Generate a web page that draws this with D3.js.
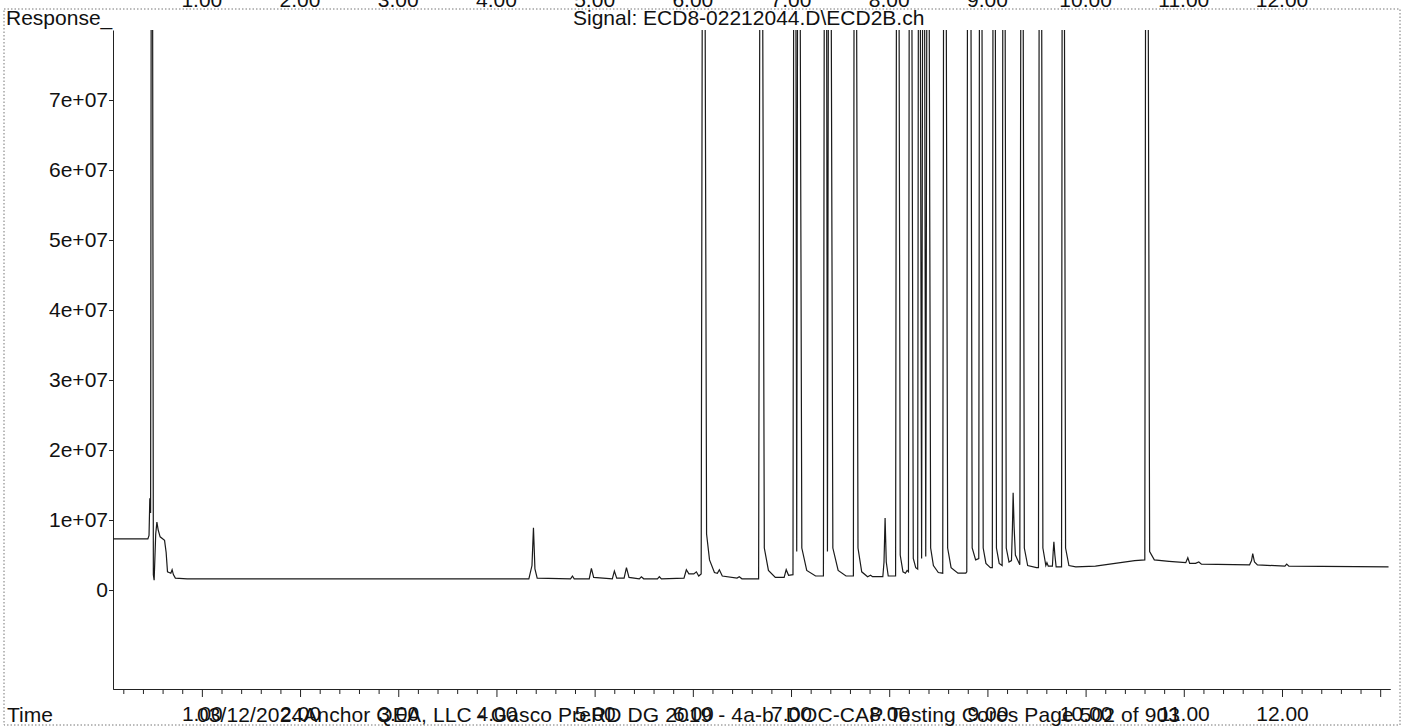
<!DOCTYPE html>
<html>
<head>
<meta charset="utf-8">
<script src="https://cdn.jsdelivr.net/npm/d3@7"></script>
<style>
  body { margin: 0; background: #fff; }
  svg text { font-family: 'Liberation Sans', Arial, sans-serif; fill: #111; }
</style>
</head>
<body>
<div id="chromatogram"></div>
<script>
// texts
var responseTitle = 'Response_'
var signalTitle = 'Signal: ECD8-02212044.D\\ECD2B.ch'
var timeTitle = 'Time'
var footerText = '03/12/2024Anchor QEA, LLC - Gasco PreRD DG 2019 - 4a-b. DOC-CAP Testing Cores Page 502 of 903'

// axis ticks
var timeTicks = [1, 2, 3, 4, 5, 6, 7, 8, 9, 10, 11, 12]
var timeLabels = ['1.00', '2.00', '3.00', '4.00', '5.00', '6.00', '7.00', '8.00', '9.00', '10.00', '11.00', '12.00']
var responseTicks = [0, 1e7, 2e7, 3e7, 4e7, 5e7, 6e7, 7e7]
var responseLabels = ['0', '1e+07', '2e+07', '3e+07', '4e+07', '5e+07', '6e+07', '7e+07']

// trace: retention time (min) and response (millions), off-scale peaks set to 100
var traceTime = [
  0.095, 0.45, 0.462, 0.47, 0.478, 0.485, 0.497, 0.506, 0.514, 0.53, 0.542, 0.555, 0.575, 0.62, 0.636, 0.65,
  0.684, 0.697, 0.71, 0.73, 0.85,
  4.33, 4.362, 4.377, 4.392, 4.415, 4.755, 4.774, 4.792, 4.945, 4.967, 4.99, 5.18, 5.201, 5.225, 5.3, 5.324,
  5.35, 5.455, 5.476, 5.5, 5.64, 5.659, 5.68, 5.91, 5.934, 5.96, 6.01, 6.036, 6.06, 6.085,
  6.098, 6.122, 6.14, 6.17, 6.22, 6.25, 6.27, 6.3, 6.45, 6.473, 6.5, 6.67,
  6.684, 6.708, 6.728, 6.77, 6.84, 6.93, 6.951, 6.975, 7.02,
  7.028, 7.048, 7.058, 7.068, 7.09, 7.11, 7.16, 7.25, 7.33,
  7.34, 7.361, 7.371, 7.382, 7.406, 7.426, 7.48, 7.56, 7.635,
  7.643, 7.665, 7.682, 7.72, 7.78, 7.81, 7.83, 7.935, 7.947, 7.958, 7.97, 7.99, 8.065,
  8.075, 8.098, 8.112, 8.14, 8.165, 8.182, 8.196,
  8.205, 8.228, 8.245, 8.27, 8.29,
  8.298, 8.314, 8.33, 8.342, 8.358, 8.372, 8.385, 8.404, 8.422, 8.45, 8.5, 8.545,
  8.555, 8.578, 8.595, 8.63, 8.7, 8.78, 8.79,
  8.798, 8.83, 8.845, 8.88, 8.912,
  8.92, 8.942, 8.957, 8.985, 9.03, 9.05,
  9.058, 9.078, 9.092, 9.12, 9.15,
  9.158, 9.178, 9.192, 9.22, 9.245, 9.255, 9.262, 9.272, 9.285, 9.33,
  9.342, 9.362, 9.376, 9.41, 9.5, 9.52,
  9.528, 9.55, 9.565, 9.595, 9.606, 9.62, 9.662, 9.67, 9.677, 9.687, 9.7, 9.755,
  9.762, 9.782, 9.796, 9.83, 9.9, 10.1, 10.3, 10.5, 10.603,
  10.612, 10.635, 10.652, 10.7, 10.85, 11.02, 11.041, 11.06, 11.12, 11.153, 11.18,
  11.67, 11.69, 11.702, 11.72, 11.75, 12.03, 12.048, 12.07, 13.085
]
var traceResponse = [
  7.3, 7.3, 7.8, 13.1, 11.0, 100, 100, 2.2, 1.4, 8.0, 9.7, 8.6, 7.6, 7.1, 5.4, 2.6,
  2.4, 2.9, 2.2, 1.7, 1.6,
  1.6, 3.5, 8.9, 3.0, 1.7, 1.6, 2.0, 1.6, 1.6, 3.1, 1.8, 1.6, 2.7, 1.7, 1.7, 3.2,
  1.8, 1.6, 1.9, 1.6, 1.6, 1.9, 1.6, 1.7, 2.9, 2.3, 2.3, 2.6, 2.0, 2.3,
  100, 100, 8.0, 4.3, 2.5, 2.4, 2.9, 2.0, 1.7, 1.9, 1.6, 1.6,
  100, 100, 6.0, 2.8, 1.8, 1.8, 2.9, 2.1, 2.2,
  100, 100, 5.5, 100, 100, 6.0, 2.8, 2.0, 2.0,
  100, 100, 5.5, 100, 100, 6.0, 2.8, 2.0, 2.0,
  100, 100, 6.0, 2.6, 1.9, 2.1, 1.9, 1.9, 4.0, 10.3, 4.0, 2.0, 2.0,
  100, 100, 5.0, 2.6, 2.4, 2.8, 2.6,
  100, 100, 4.5, 3.2, 3.0,
  100, 100, 4.5, 100, 100, 4.8, 100, 100, 6.0, 3.5, 2.5, 2.4,
  100, 100, 6.0, 3.2, 2.4, 2.4, 2.6,
  100, 100, 6.0, 4.3, 4.5,
  100, 100, 6.0, 3.8, 3.2, 3.2,
  100, 100, 6.0, 3.8, 3.5,
  100, 100, 6.0, 4.0, 4.2, 9.0, 13.9, 9.0, 5.0, 3.6,
  100, 100, 6.0, 3.5, 3.2, 3.2,
  100, 100, 6.0, 3.5, 3.9, 3.4, 3.4, 5.5, 6.9, 5.0, 3.3, 3.3,
  100, 100, 6.0, 3.5, 3.3, 3.4, 3.8, 4.2, 4.3,
  100, 100, 5.5, 4.3, 4.1, 3.9, 4.6, 3.8, 3.8, 4.0, 3.7,
  3.6, 4.2, 5.2, 4.0, 3.6, 3.4, 3.7, 3.4, 3.3
]

// page and plot size
var page_width = 1411
var page_height = 728
var margin = { top: 30, left: 113, right: 21, bottom: 39 }
var plot_width = page_width - margin.left - margin.right
var plot_height = page_height - margin.top - margin.bottom

var svg = d3
  .select('#chromatogram')
  .append('svg')
  .attr('width', page_width)
  .attr('height', page_height)

// dotted page frame of the scan
svg
  .append('rect')
  .attr('x', 4)
  .attr('y', 9)
  .attr('width', 1396)
  .attr('height', 716)
  .attr('fill', 'none')
  .attr('stroke', '#777')
  .attr('stroke-dasharray', '1.5,2')

var plot = svg
  .append('g')
  .attr('transform', 'translate(' + margin.left + ',' + margin.top + ')')

// scales
var x = d3.scaleLinear().domain([0.095, 13.1]).range([0, plot_width])
var y = d3.scaleLinear().domain([-1.414e7, 8e7]).range([plot_height, 0])

// clip so off-scale peaks stop at the top
plot
  .append('clipPath')
  .attr('id', 'plot-clip')
  .append('rect')
  .attr('x', 0)
  .attr('y', 0)
  .attr('width', plot_width)
  .attr('height', plot_height)

// bottom axis, minor ticks every 0.2 min
var minorTicks = d3.range(1, 66).map(i => i / 5).filter(t => Math.abs(t - Math.round(t)) > 0.01)
plot
  .append('g')
  .attr('class', 'axis-minor')
  .attr('transform', 'translate(0,' + plot_height + ')')
  .call(d3.axisBottom(x).tickValues(minorTicks).tickSize(5).tickSizeOuter(0).tickFormat(''))

var timeAxis = plot
  .append('g')
  .attr('class', 'axis-time')
  .attr('transform', 'translate(0,' + plot_height + ')')
  .call(
    d3
      .axisBottom(x)
      .tickValues(timeTicks.concat([13]))
      .tickSize(8)
      .tickSizeOuter(0)
      .tickFormat((d, i) => timeLabels[i] || '')
  )

timeAxis
  .selectAll('text')
  .attr('y', 32)
  .attr('dy', 0)
  .style('font-size', '21px')
  .style('fill', '#111')

// left axis
var responseAxis = plot
  .append('g')
  .attr('class', 'axis-response')
  .call(
    d3
      .axisLeft(y)
      .tickValues(responseTicks)
      .tickSize(4)
      .tickPadding(1)
      .tickSizeOuter(0)
      .tickFormat((d, i) => responseLabels[i])
  )

responseAxis
  .selectAll('text')
  .style('font-size', '21px')
  .style('fill', '#111')

svg.selectAll('.domain, .tick line').attr('stroke', '#222')

// cut-off time labels of the panel above
svg
  .append('g')
  .selectAll('text')
  .data(timeTicks)
  .enter()
  .append('text')
  .attr('x', d => margin.left + x(d))
  .attr('y', 7)
  .attr('text-anchor', 'middle')
  .style('font-size', '21px')
  .text((d, i) => timeLabels[i])

// titles
svg
  .append('text')
  .attr('x', 6)
  .attr('y', 25)
  .style('font-size', '21px')
  .text(responseTitle)

svg
  .append('text')
  .attr('x', 573)
  .attr('y', 25)
  .style('font-size', '21px')
  .text(signalTitle)

svg
  .append('text')
  .attr('x', 7)
  .attr('y', 722)
  .style('font-size', '21px')
  .text(timeTitle)

svg
  .append('text')
  .attr('x', 197)
  .attr('y', 722)
  .attr('textLength', 983)
  .attr('lengthAdjust', 'spacing')
  .style('font-size', '21px')
  .text(footerText)

// draw trace
var trace = traceTime.map((t, i) => ({ time: t, response: traceResponse[i] * 1e6 }))

var line = d3
  .line()
  .x(d => x(d.time))
  .y(d => y(d.response))

plot
  .append('path')
  .datum(trace)
  .attr('clip-path', 'url(#plot-clip)')
  .attr('fill', 'none')
  .attr('stroke', '#1a1a1a')
  .attr('stroke-width', 1.2)
  .attr('d', line)
</script>
</body>
</html>
